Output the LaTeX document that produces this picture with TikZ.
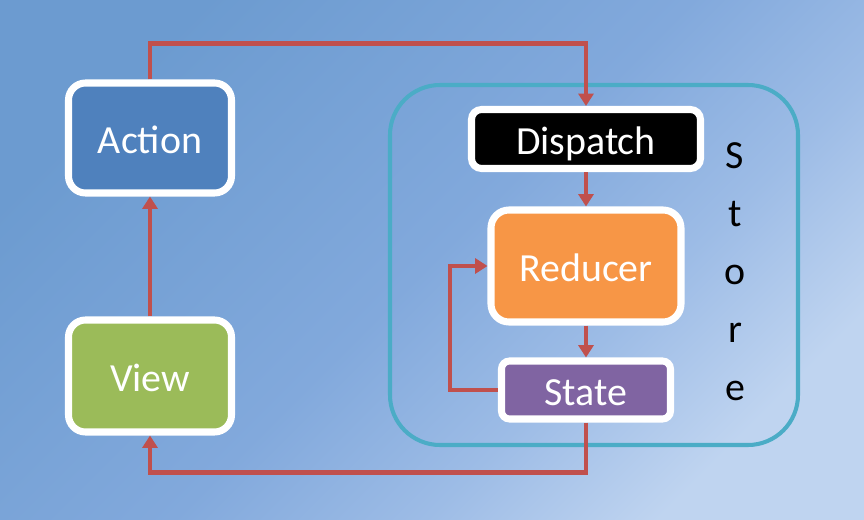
\documentclass[tikz,border=0pt]{standalone}
\usepackage{fontspec}
\newfontfamily\calibri{Carlito}
\usepackage{tikz}
\usetikzlibrary{arrows.meta, positioning, shadows}
\definecolor{bgdark}{HTML}{6C9BD0}
\definecolor{bgmid}{HTML}{82A9DC}
\definecolor{bgsoft}{HTML}{9DBCE6}
\definecolor{bglight}{HTML}{BFD4F0}
\definecolor{redline}{HTML}{C0504D}
\definecolor{storeline}{HTML}{4BACC6}
\definecolor{actionfill}{HTML}{4F81BD}
\definecolor{viewfill}{HTML}{9BBB59}
\definecolor{reducerfill}{HTML}{F79646}
\definecolor{statefill}{HTML}{8064A2}
\pgfdeclareverticalshading{bgshade}{100bp}{color(0bp)=(bglight); color(25bp)=(bglight); color(37bp)=(bgsoft); color(50bp)=(bgmid); color(75bp)=(bgdark); color(100bp)=(bgdark)}
\tikzstyle{flow} = [draw=redline, line width=2.4pt, -{Triangle[length=7pt,width=8.5pt]}]
\tikzstyle{block} = [draw=white, line width=4pt, text=white, font=\calibri\fontsize{22.7}{27}\selectfont,
  text height=0.7cm, text depth=0.1cm,
  drop shadow={opacity=0.25, shadow xshift=0.5pt, shadow yshift=-1.5pt}]

\begin{document}
\begin{tikzpicture}

% Background
\shade[shading=bgshade, shading angle=45] (0,0) rectangle (17.28,10.38);

% Store frame
\node[draw=storeline, line width=2.3pt, rounded corners=1cm, minimum width=8.16cm, minimum height=7.2cm] (store) at (11.88,5.08) {};
\node[font=\calibri\fontsize{22.7}{33}\selectfont, align=center] (storelabel) at (14.7,4.94) {S\\t\\o\\r\\e};

% Blocks
\node[block, fill=actionfill, rounded corners=0.34cm, minimum width=3.26cm, minimum height=2.2cm] (action) at (3.0,7.62) {Action};
\node[block, fill=viewfill, rounded corners=0.34cm, minimum width=3.26cm, minimum height=2.24cm] (view) at (3.0,2.86) {View};
\node[block, fill=black, rounded corners=0.2cm, minimum width=4.58cm, minimum height=1.18cm] (dispatch) at (11.72,7.60) {Dispatch};
\node[block, fill=reducerfill, rounded corners=0.36cm, minimum width=3.8cm, minimum height=2.24cm] (reducer) at (11.72,5.06) {Reducer};
\node[block, fill=statefill, rounded corners=0.16cm, minimum width=3.38cm, minimum height=1.16cm] (state) at (11.72,2.58) {State};

% Flow
\draw[flow] (action.north) -- ++(0,0.72) -| (dispatch.north);
\draw[flow] (dispatch.south) -- (reducer.north);
\draw[flow] (reducer.south) -- (state.north);
\draw[flow] (state.west) -- ++(-0.96,0) |- (reducer.west);
\draw[flow] (state.south) -- ++(0,-1.0) -| (view.south);
\draw[flow] (view.north) -- (action.south);
\end{tikzpicture}
\end{document}
